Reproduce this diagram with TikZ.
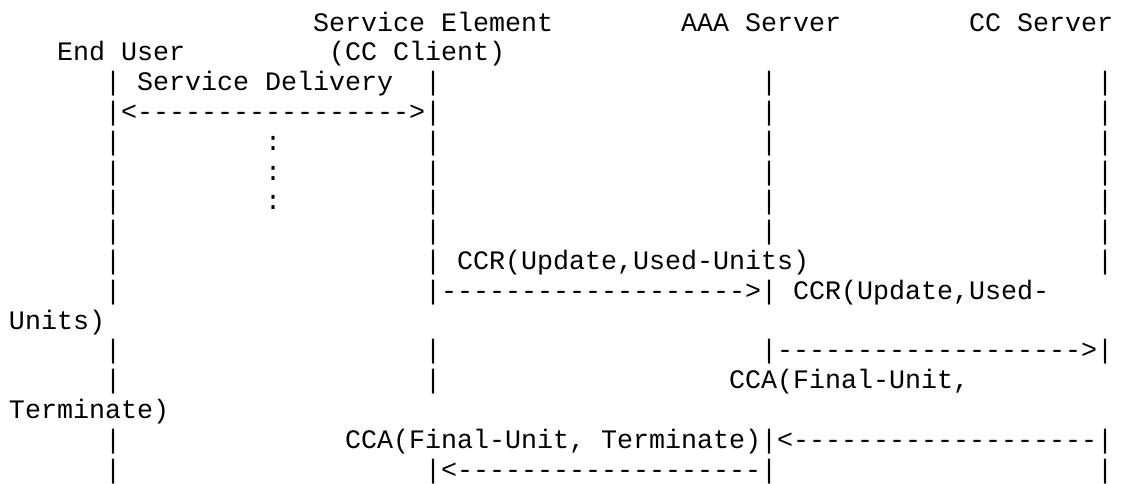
\documentclass[tikz,border=0pt]{standalone}
\usepackage{fontspec}
\setmonofont{Liberation Mono}
\newcommand\dsh[1]{\foreach\i in {1,...,#1}{-}}
\tikzset{asc/.style={anchor=base west, inner sep=0pt, outer sep=0pt,
  font=\ttfamily\fontsize{26.67pt}{30pt}\selectfont}}
\begin{document}
\begin{tikzpicture}
\useasboundingbox (0pt,0pt) rectangle (1122pt,-483pt);
\begin{scope}[x=16pt, y=-29.8pt, shift={(9pt,-1.2pt)}]
% line 1-2: headers
\node[asc] (h1) at (19,1) {Service Element};
\node[asc] (h2) at (42,1) {AAA Server};
\node[asc] (h3) at (60,1) {CC Server};
\node[asc] (h4) at (3,2) {End User};
\node[asc] (h5) at (20,2) {(CC Client)};
% line 3
\node[asc] (l3a) at (6,3) {|};
\node[asc] (l3b) at (8,3) {Service Delivery};
\node[asc] (l3c) at (26,3) {|};
\node[asc] (l3d) at (47,3) {|};
\node[asc] (l3e) at (68,3) {|};
% line 4
\node[asc] (l4a) at (6,4) {|<\dsh{17}>|};
\node[asc] (l4b) at (47,4) {|};
\node[asc] (l4c) at (68,4) {|};
% lines 5-7
\foreach \l in {5,6,7} {
  \node[asc] (l\l a) at (6,\l) {|};
  \node[asc] (l\l b) at (16,\l) {:};
  \node[asc] (l\l c) at (26,\l) {|};
  \node[asc] (l\l d) at (47,\l) {|};
  \node[asc] (l\l e) at (68,\l) {|};
}
% line 8
\node[asc] (l8a) at (6,8) {|};
\node[asc] (l8b) at (26,8) {|};
\node[asc] (l8c) at (47,8) {|};
\node[asc] (l8d) at (68,8) {|};
% line 9
\node[asc] (l9a) at (6,9) {|};
\node[asc] (l9b) at (26,9) {| CCR(Update,Used-Units)};
\node[asc] (l9c) at (68,9) {|};
% line 10
\node[asc] (l10a) at (6,10) {|};
\node[asc] (l10b) at (26,10) {|\dsh{19}>| CCR(Update,Used-};
% line 11
\node[asc] (l11a) at (0,11) {Units)};
% line 12
\node[asc] (l12a) at (6,12) {|};
\node[asc] (l12b) at (26,12) {|};
\node[asc] (l12c) at (47,12) {|\dsh{19}>|};
% line 13
\node[asc] (l13a) at (6,13) {|};
\node[asc] (l13b) at (26,13) {|};
\node[asc] (l13c) at (45,13) {CCA(Final-Unit,};
% line 14
\node[asc] (l14a) at (0,14) {Terminate)};
% line 15
\node[asc] (l15a) at (6,15) {|};
\node[asc] (l15b) at (21,15) {CCA(Final-Unit, Terminate)|<\dsh{19}|};
% line 16
\node[asc] (l16a) at (6,16) {|};
\node[asc] (l16b) at (26,16) {|<\dsh{19}|};
\node[asc] (l16c) at (68,16) {|};
\end{scope}
\end{tikzpicture}
\end{document}
